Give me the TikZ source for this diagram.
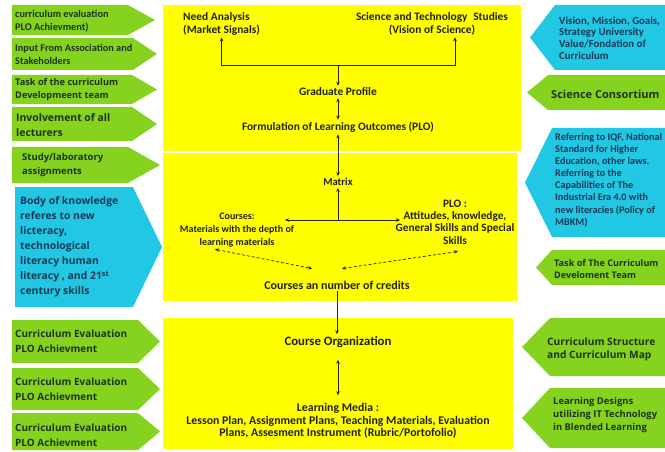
\documentclass[tikz,border=0pt]{standalone}
\usepackage{fontspec}
\setmainfont{Carlito}
\newfontfamily\widefont{Open Sans}
\usetikzlibrary{arrows.meta}
\definecolor{panelyellow}{HTML}{FFFF00}
\definecolor{leafgreen}{HTML}{86D31F}
\definecolor{skycyan}{HTML}{22C7E3}
\definecolor{ink}{HTML}{22221A}
\definecolor{greenink}{HTML}{1E3316}
\definecolor{cyanink}{HTML}{173A55}

\begin{document}
\begin{tikzpicture}[x=1pt,y=-1pt,
  panel/.style={fill=panelyellow},
  gshape/.style={fill=leafgreen},
  cshape/.style={fill=skycyan},
  lbl/.style={anchor=west,align=left,inner sep=0pt,text=greenink,font=\bfseries\fontsize{10.3}{13}\selectfont},
  wlbl/.style={lbl,font=\widefont\bfseries\fontsize{9.2}{13}\selectfont},
  wmid/.style={lbl,font=\widefont\bfseries\fontsize{10}{15}\selectfont},
  wbig/.style={lbl,font=\widefont\bfseries\fontsize{10.4}{14.5}\selectfont},
  mid/.style={align=center,inner sep=2pt,text=ink,font=\bfseries\fontsize{11.4}{12.5}\selectfont},
  link/.style={draw=ink,line width=0.9pt},
  dashlink/.style={link,densely dashed,line width=0.7pt},
  onearr/.style={-{Stealth[length=4pt,width=3.5pt]}},
  twoarr/.style={{Stealth[length=4pt,width=3.5pt]}-{Stealth[length=4pt,width=3.5pt]}}]
\useasboundingbox (0,0) rectangle (665,452);

% yellow panels
\fill[panel] (163,5) rectangle (521,151);
\fill[panel] (163,153) rectangle (517,301);
\fill[panel] (163,318) rectangle (513,449);

% left side
\fill[gshape] (12,5) -- (128,5) -- (155,20) -- (128,35) -- (12,35) -- cycle;
\fill[gshape] (12,38) -- (133,38) -- (157,54) -- (133,70) -- (12,70) -- cycle;
\fill[gshape] (12,75) -- (132,75) -- (157,89.5) -- (132,104) -- (12,104) -- cycle;
\fill[gshape] (12,107) -- (132,107) -- (157,124) -- (132,141) -- (12,141) -- cycle;
\fill[gshape] (12,147) -- (128,147) -- (160,165) -- (128,183) -- (12,183) -- cycle;
\fill[cshape] (15,187) -- (133,187) -- (162,247) -- (133,307) -- (15,307) -- cycle;
\fill[gshape] (12,320) -- (138,320) -- (160,341.5) -- (138,363) -- (12,363) -- cycle;
\fill[gshape] (12,368) -- (138,368) -- (160,389) -- (138,410) -- (12,410) -- cycle;
\fill[gshape] (12,413) -- (138,413) -- (160,431.5) -- (138,450) -- (12,450) -- cycle;

\node[lbl] (eval1) at (15,21) {curriculum evaluation\\PLO Achievment)};
\node[lbl] (input) at (15,54) {Input From Association and\\Stakeholders};
\node[wlbl] (task) at (15,90) {Task of the curriculum\\Developmeent team};
\node[wbig] (lect) at (16,125) {Involvement of all\\lecturers};
\node[wlbl,font=\widefont\bfseries\fontsize{9.5}{14}\selectfont] (study) at (22,165) {Study/laboratory\\assignments};
\node[wbig,text=cyanink,font=\widefont\bfseries\fontsize{10.4}{15}\selectfont] (body) at (20,247)
  {Body of knowledge\\referes to new\\licteracy,\\technological\\literacy human\\literacy , and 21\textsuperscript{st}\\century skills};
\node[wmid] (eval2) at (15,341) {Curriculum Evaluation\\PLO Achievment};
\node[wmid] (eval3) at (15,389) {Curriculum Evaluation\\PLO Achievment};
\node[wmid] (eval4) at (15,435) {Curriculum Evaluation\\PLO Achievment};

% right side
\fill[cshape] (665,5) -- (555,5) -- (530,37.5) -- (555,70) -- (665,70) -- cycle;
\fill[gshape] (665,75) -- (548,75) -- (527,92.5) -- (548,110) -- (665,110) -- cycle;
\fill[cshape] (665,128) -- (552,128) -- (525,182.5) -- (552,237) -- (665,237) -- cycle;
\fill[gshape] (665,250) -- (552,250) -- (536,267.5) -- (552,285) -- (665,285) -- cycle;
\fill[gshape] (665,318) -- (550,318) -- (522,347) -- (550,376) -- (665,376) -- cycle;
\fill[gshape] (665,388) -- (550,388) -- (522,418) -- (550,448) -- (665,448) -- cycle;

\node[lbl,text=cyanink,font=\bfseries\fontsize{10.8}{11.8}\selectfont] (vision) at (559,38)
  {Vision, Mission, Goals,\\Strategy University\\Value/Fondation of\\Curriculum};
\node[wbig,font=\widefont\bfseries\fontsize{11}{14}\selectfont] (consort) at (551,94) {Science Consortium};
\node[lbl,text=cyanink,font=\bfseries\fontsize{10.2}{12.1}\selectfont] (iqf) at (555,180)
  {Referring to IQF, National\\Standard for Higher\\Education, other laws.\\Referring to the\\Capabilities of The\\Industrial Era 4.0 with\\new literacies (Policy of\\MBKM)};
\node[wlbl,font=\widefont\bfseries\fontsize{9.1}{12}\selectfont] (taskr) at (554,269) {Task of The Curriculum\\Develoment Team};
\node[wmid,font=\widefont\bfseries\fontsize{10.2}{13}\selectfont] (struct) at (547,349) {Curriculum Structure\\and Curriculum Map};
\node[wlbl,font=\widefont\bfseries\fontsize{9.4}{13}\selectfont] (design) at (553,415) {Learning Designs\\utilizing IT Technology\\in Blended Learning};

% centre
\node[mid,anchor=west,align=left] (need) at (181,24) {Need Analysis\\(Market Signals)};
\node[mid] (sci) at (432,24) {Science and Technology\enspace Studies\\(Vision of Science)};
\coordinate (join) at (338,65);
\node[mid] (grad) at (338,92) {Graduate Profile};
\node[mid] (plo) at (338,127) {Formulation of Learning Outcomes (PLO)};
\node[mid,font=\bfseries\fontsize{10.6}{12}\selectfont] (matrix) at (338,182) {Matrix};
\coordinate (split) at (338,220);
\coordinate (splitl) at (285,220);
\coordinate (splitr) at (400,220);
\node[mid,font=\bfseries\fontsize{10}{13}\selectfont] (courses) at (237,230)
  {Courses:\\Materials with the depth of\\learning materials};
\node[mid,font=\bfseries\fontsize{11.3}{12.3}\selectfont] (plores) at (455,222)
  {PLO :\\Attitudes, knowledge,\\General Skills and Special\\Skills};
\node[mid,font=\bfseries\fontsize{12}{13}\selectfont] (credits) at (337,285) {Courses an number of credits};
\node[mid,font=\bfseries\fontsize{12.8}{14}\selectfont] (org) at (338,342) {Course Organization};
\node[mid,font=\bfseries\fontsize{11.8}{12.6}\selectfont] (media) at (338,421)
  {Learning Media :\\Lesson Plan, Assignment Plans, Teaching Materials, Evaluation\\Plans, Assesment Instrument (Rubric/Portofolio)};

\draw[link,onearr] (join) -| (need.south);
\draw[link,onearr] (join) -| ([xshift=23pt]sci.south);
\draw[link,onearr] (join) -- (grad);
\draw[link,twoarr] (grad) -- (plo);
\draw[link,twoarr] (plo) -- (matrix);
\draw[link,onearr] (split) -- (matrix);
\draw[link,twoarr] (splitl) -- (splitr);
\draw[dashlink,twoarr] ([xshift=-22pt]courses.south) -- ([xshift=-25pt,yshift=10pt]credits.north);
\draw[dashlink,twoarr] ([xshift=3pt,yshift=-5pt]plores.south) -- ([xshift=5pt,yshift=10pt]credits.north);
\draw[link,onearr] (credits) -- ([xshift=-1pt]org.north);
\draw[link,twoarr,shorten <=10pt,shorten >=6pt] (org) -- (media);
\end{tikzpicture}
\end{document}
